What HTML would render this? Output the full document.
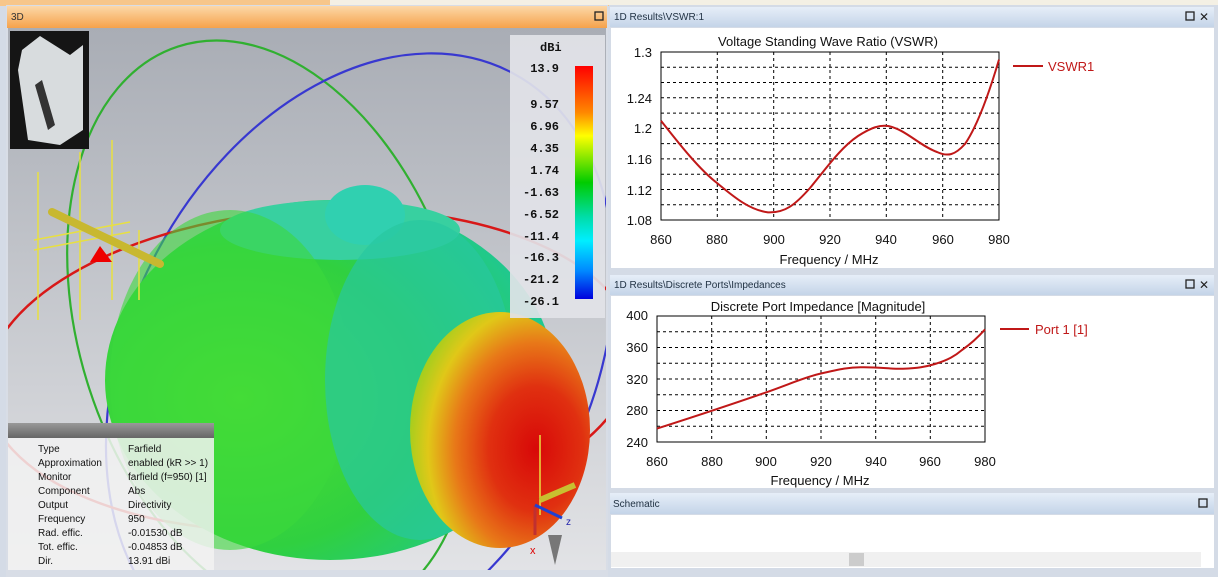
<!DOCTYPE html>
<html style="margin:0;overflow:hidden;width:1218px;height:577px"><head><meta charset="utf-8"><style>
html,body{margin:0;padding:0;width:1218px;height:577px;overflow:hidden;}
body{background:#d4dbe6;font-family:"Liberation Sans",sans-serif;position:relative;}
svg{display:block;position:absolute;left:0;top:0;overflow:hidden}
</style></head><body>
<svg width="1218" height="577" viewBox="0 0 1218 577" xmlns="http://www.w3.org/2000/svg">
<defs>
<clipPath id="c3"><rect x="8" y="28" width="598" height="542"/></clipPath>
<linearGradient id="org" x1="0" y1="0" x2="0" y2="1"><stop offset="0" stop-color="#fcd8a8"/><stop offset="1" stop-color="#f5a24c"/></linearGradient>
<linearGradient id="blu" x1="0" y1="0" x2="0" y2="1"><stop offset="0" stop-color="#e6eef8"/><stop offset="1" stop-color="#c4d4e8"/></linearGradient>
<linearGradient id="bg3" x1="0" y1="0" x2="0" y2="1"><stop offset="0" stop-color="#a9adb5"/><stop offset="1" stop-color="#e2e3e6"/></linearGradient>
<linearGradient id="cb" x1="0" y1="0" x2="0" y2="1"><stop offset="0" stop-color="#f00"/><stop offset="0.2" stop-color="#f80"/><stop offset="0.3" stop-color="#ff0"/><stop offset="0.5" stop-color="#0c0"/><stop offset="0.65" stop-color="#0da"/><stop offset="0.75" stop-color="#0ef"/><stop offset="0.88" stop-color="#08f"/><stop offset="1" stop-color="#00d"/></linearGradient>
<radialGradient id="head" cx="0.7" cy="0.58" r="0.75"><stop offset="0" stop-color="#d80808"/><stop offset="0.35" stop-color="#e03010"/><stop offset="0.6" stop-color="#e87818"/><stop offset="0.8" stop-color="#e0c818"/><stop offset="1" stop-color="#90d020"/></radialGradient>
<radialGradient id="body" cx="0.3" cy="0.55" r="0.7"><stop offset="0" stop-color="#50e030"/><stop offset="0.6" stop-color="#30d040"/><stop offset="1" stop-color="#20c890"/></radialGradient>
<linearGradient id="ihd" x1="0" y1="0" x2="0" y2="1"><stop offset="0" stop-color="#999"/><stop offset="1" stop-color="#666"/></linearGradient>
</defs>
<rect x="0" y="0" width="1218" height="6" fill="#f7c68a"/>
<rect x="330" y="0" width="888" height="5" fill="#f4f0e4"/>
<rect x="6" y="5" width="602" height="572" fill="#d8dde6"/>
<rect x="7" y="6" width="600" height="22" fill="url(#org)"/>
<text x="11" y="20" font-size="10" fill="#333">3D</text>
<rect x="595" y="12" width="8" height="8" fill="none" stroke="#222" stroke-width="1.3"/>
<g clip-path="url(#c3)">
<rect x="8" y="28" width="598" height="542" fill="url(#bg3)"/>
<ellipse cx="270" cy="330" rx="190" ry="298" transform="rotate(-18 270 330)" fill="none" stroke="#30b030" stroke-width="2.2"/>
<ellipse cx="360" cy="360" rx="230" ry="325" transform="rotate(28 360 360)" fill="none" stroke="#3838d0" stroke-width="2.2"/>
<ellipse cx="310" cy="370" rx="325" ry="160" transform="rotate(-4 310 370)" fill="none" stroke="#d81818" stroke-width="2.5"/>
<ellipse cx="330" cy="380" rx="225" ry="180" fill="url(#body)"/>
<ellipse cx="340" cy="230" rx="120" ry="30" fill="#38d0a0"/>
<ellipse cx="365" cy="215" rx="40" ry="30" fill="#30d0b0"/>
<ellipse cx="230" cy="380" rx="120" ry="170" fill="#3cd83c" opacity="0.6"/>
<ellipse cx="420" cy="380" rx="95" ry="160" fill="#28c8a0" opacity="0.7"/>
<ellipse cx="500" cy="430" rx="90" ry="118" fill="url(#head)"/>
<g stroke="#e8e040" stroke-width="1.5" fill="none">
<line x1="38" y1="172" x2="38" y2="320"/><line x1="80" y1="152" x2="80" y2="320"/><line x1="112" y1="140" x2="112" y2="300"/><line x1="139" y1="230" x2="139" y2="300"/><line x1="34" y1="240" x2="130" y2="222"/><line x1="34" y1="250" x2="130" y2="232"/>
</g>
<line x1="52" y1="212" x2="160" y2="264" stroke="#c8b830" stroke-width="8" stroke-linecap="round"/>
<polygon points="90,262 100,246 112,262" fill="#e00"/>
<rect x="10" y="31" width="79" height="118" fill="#151515"/>
<path d="M22 50 L40 36 L70 55 L83 45 L83 130 L60 145 L28 140 L18 70Z" fill="#d8dcde"/>
<path d="M42 80 L55 125 L48 130 L35 85Z" fill="#333"/>
<rect x="510" y="35" width="95" height="283" fill="#e2e3e8" opacity="0.92"/>
<text x="540" y="51" font-size="12" font-family="Liberation Mono,monospace" font-weight="bold" fill="#111">dBi</text>
<rect x="575" y="66" width="18" height="233" fill="url(#cb)"/>
<g font-size="12" font-family="Liberation Mono,monospace" font-weight="bold" fill="#111" text-anchor="end">
<text x="559" y="72">13.9</text><text x="559" y="108">9.57</text><text x="559" y="130">6.96</text><text x="559" y="152">4.35</text><text x="559" y="174">1.74</text><text x="559" y="196">-1.63</text><text x="559" y="218">-6.52</text><text x="559" y="240">-11.4</text><text x="559" y="261">-16.3</text><text x="559" y="283">-21.2</text><text x="559" y="305">-26.1</text>
</g>
<rect x="7" y="423" width="207" height="15" fill="url(#ihd)"/>
<rect x="7" y="438" width="207" height="132" fill="#f2f2f2" opacity="0.85"/>
<g font-size="10" fill="#111">
<text x="38" y="452">Type</text><text x="128" y="452">Farfield</text>
<text x="38" y="466">Approximation</text><text x="128" y="466">enabled (kR &gt;&gt; 1)</text>
<text x="38" y="480">Monitor</text><text x="128" y="480">farfield (f=950) [1]</text>
<text x="38" y="494">Component</text><text x="128" y="494">Abs</text>
<text x="38" y="508">Output</text><text x="128" y="508">Directivity</text>
<text x="38" y="522">Frequency</text><text x="128" y="522">950</text>
<text x="38" y="536">Rad. effic.</text><text x="128" y="536">-0.01530 dB</text>
<text x="38" y="550">Tot. effic.</text><text x="128" y="550">-0.04853 dB</text>
<text x="38" y="564">Dir.</text><text x="128" y="564">13.91 dBi</text>
</g>
<line x1="540" y1="435" x2="540" y2="515" stroke="#e8e040" stroke-width="1.5"/>
<line x1="540" y1="500" x2="575" y2="485" stroke="#c8c030" stroke-width="6"/>
<line x1="535" y1="505" x2="535" y2="535" stroke="#c03030" stroke-width="3"/>
<line x1="535" y1="505" x2="562" y2="518" stroke="#2040d0" stroke-width="3"/>
<polygon points="548,535 562,535 555,565" fill="#777"/>
<text x="530" y="554" font-size="11" fill="#d00">x</text><text x="566" y="525" font-size="10" fill="#22a">z</text>
</g>
<rect x="609" y="5" width="609" height="572" fill="#d4dbe6"/>
<rect x="610" y="7" width="604" height="20" fill="url(#blu)"/>
<text x="614" y="20" font-size="10" fill="#234">1D Results\VSWR:1</text>
<rect x="1186" y="12" width="8" height="8" fill="none" stroke="#222" stroke-width="1.3"/>
<text x="1199" y="21" font-size="12" fill="#222">✕</text>
<rect x="611" y="28" width="603" height="240" fill="#fff"/>
<rect x="610" y="275" width="604" height="20" fill="url(#blu)"/>
<text x="614" y="288" font-size="10" fill="#234">1D Results\Discrete Ports\Impedances</text>
<rect x="1186" y="280" width="8" height="8" fill="none" stroke="#222" stroke-width="1.3"/>
<text x="1199" y="289" font-size="12" fill="#222">✕</text>
<rect x="611" y="296" width="603" height="192" fill="#fff"/>
<rect x="610" y="493" width="604" height="21" fill="url(#blu)"/>
<text x="613" y="507" font-size="10" fill="#234">Schematic</text>
<rect x="1199" y="499" width="8" height="8" fill="none" stroke="#222" stroke-width="1.3"/>
<rect x="611" y="515" width="603" height="53" fill="#fff"/>
<rect x="611" y="552" width="590" height="15" fill="#f0f0f0"/>
<rect x="849" y="553" width="15" height="13" fill="#ccc"/>
<g stroke="#000" stroke-width="1" stroke-dasharray="3,3">
<line x1="661" y1="67.3" x2="999" y2="67.3"/><line x1="661" y1="82.5" x2="999" y2="82.5"/><line x1="661" y1="97.8" x2="999" y2="97.8"/><line x1="661" y1="113.1" x2="999" y2="113.1"/><line x1="661" y1="128.4" x2="999" y2="128.4"/><line x1="661" y1="143.6" x2="999" y2="143.6"/><line x1="661" y1="158.9" x2="999" y2="158.9"/><line x1="661" y1="174.2" x2="999" y2="174.2"/><line x1="661" y1="189.5" x2="999" y2="189.5"/><line x1="661" y1="204.7" x2="999" y2="204.7"/>
<line x1="717.3" y1="52" x2="717.3" y2="220"/><line x1="773.7" y1="52" x2="773.7" y2="220"/><line x1="830" y1="52" x2="830" y2="220"/><line x1="886.3" y1="52" x2="886.3" y2="220"/><line x1="942.7" y1="52" x2="942.7" y2="220"/>
</g>
<rect x="661" y="52" width="338" height="168" fill="none" stroke="#000"/>
<path fill="none" stroke="#c01818" stroke-width="2" d="M661,120.7 C680,145 700,170 717,183 C735,198 750,210 768,212.4 C785,213 795,205 810,188 C825,170 840,148 858,136 C872,127 880,125 888,126 C905,129 920,146 937,152 C948,157 955,155 965,144 C978,125 990,90 999,59.6"/>
<text x="828" y="46" font-size="13" text-anchor="middle" fill="#111">Voltage Standing Wave Ratio (VSWR)</text>
<g font-size="13" fill="#111" text-anchor="end"><text x="652" y="57">1.3</text><text x="652" y="103">1.24</text><text x="652" y="133">1.2</text><text x="652" y="164">1.16</text><text x="652" y="195">1.12</text><text x="652" y="225">1.08</text></g>
<g font-size="13" fill="#111" text-anchor="middle"><text x="661" y="244">860</text><text x="717" y="244">880</text><text x="774" y="244">900</text><text x="830" y="244">920</text><text x="886" y="244">940</text><text x="943" y="244">960</text><text x="999" y="244">980</text><text x="829" y="264">Frequency / MHz</text></g>
<line x1="1013" y1="66" x2="1043" y2="66" stroke="#c01818" stroke-width="2"/>
<text x="1048" y="71" font-size="13" fill="#c01818">VSWR1</text>
<g stroke="#000" stroke-width="1" stroke-dasharray="3,3">
<line x1="657" y1="331.8" x2="985" y2="331.8"/><line x1="657" y1="347.5" x2="985" y2="347.5"/><line x1="657" y1="363.3" x2="985" y2="363.3"/><line x1="657" y1="379" x2="985" y2="379"/><line x1="657" y1="394.8" x2="985" y2="394.8"/><line x1="657" y1="410.5" x2="985" y2="410.5"/><line x1="657" y1="426.3" x2="985" y2="426.3"/>
<line x1="711.7" y1="316" x2="711.7" y2="442"/><line x1="766.3" y1="316" x2="766.3" y2="442"/><line x1="821" y1="316" x2="821" y2="442"/><line x1="875.7" y1="316" x2="875.7" y2="442"/><line x1="930.3" y1="316" x2="930.3" y2="442"/>
</g>
<rect x="657" y="316" width="328" height="126" fill="none" stroke="#000"/>
<path fill="none" stroke="#c01818" stroke-width="2" d="M657,428.6 C690,418 730,405 766,392.4 C790,384 805,377 821,373.5 C840,369 850,367 862,367.2 C880,367 890,369 903,368.8 C918,368 925,367 935,364 C948,360 955,356 962,350 C972,343 980,335 985,329.4"/>
<text x="818" y="311" font-size="13" text-anchor="middle" fill="#111">Discrete Port Impedance [Magnitude]</text>
<g font-size="13" fill="#111" text-anchor="end"><text x="648" y="320">400</text><text x="648" y="352">360</text><text x="648" y="384">320</text><text x="648" y="415">280</text><text x="648" y="447">240</text></g>
<g font-size="13" fill="#111" text-anchor="middle"><text x="657" y="466">860</text><text x="712" y="466">880</text><text x="766" y="466">900</text><text x="821" y="466">920</text><text x="876" y="466">940</text><text x="930" y="466">960</text><text x="985" y="466">980</text><text x="820" y="485">Frequency / MHz</text></g>
<line x1="1000" y1="329" x2="1029" y2="329" stroke="#c01818" stroke-width="2"/>
<text x="1035" y="334" font-size="13" fill="#c01818">Port 1 [1]</text>
</svg>
</body></html>
